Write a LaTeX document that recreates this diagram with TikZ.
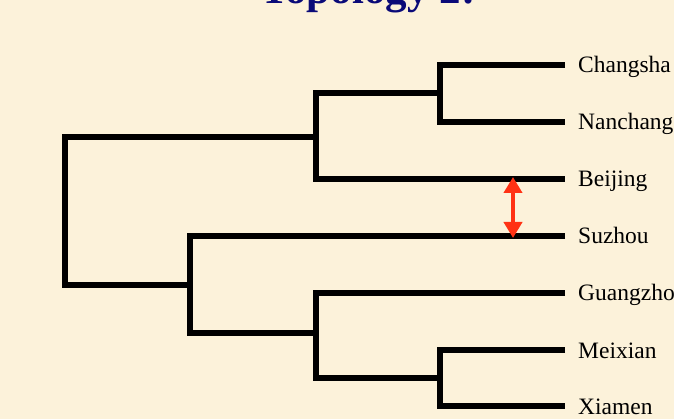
\documentclass[tikz,border=0pt]{standalone}
\usepackage{fontspec}
\setmainfont{Liberation Serif}
\usetikzlibrary{arrows.meta}
\definecolor{bgcream}{RGB}{252,242,218}
\definecolor{titleblue}{RGB}{10,10,120}
\definecolor{arrowred}{RGB}{255,50,20}
\begin{document}
\begin{tikzpicture}[x=1pt,y=-1pt,
  branch/.style={line width=5.5pt,line join=miter,black},
  leaflabel/.style={anchor=base west,inner sep=0pt,font=\fontsize{23.5}{28}\selectfont},
  swaparrow/.style={line width=4pt,arrowred,{Triangle[width=18pt,length=16pt]}-{Triangle[width=18pt,length=16pt]}}]
\fill[bgcream] (0,0) rectangle (674,419);
\useasboundingbox (0,0) rectangle (674,419);
\clip (0,0) rectangle (674,419);
\node[anchor=base,inner sep=0pt,text=titleblue,font=\fontsize{43}{48}\selectfont\bfseries] (title) at (368,4) {Topology 2:};
% internal nodes
\coordinate (n1) at (65,211);
\coordinate (n2) at (190,285);
\coordinate (n3) at (316,137);
\coordinate (n4) at (440,93);
\coordinate (n5) at (316,333);
\coordinate (n6) at (440,378);
% leaf ends
\coordinate (lc) at (565,65);
\coordinate (ln) at (565,122);
\coordinate (lb) at (565,179);
\coordinate (ls) at (565,236);
\coordinate (lg) at (565,293);
\coordinate (lm) at (565,350);
\coordinate (lx) at (565,406);
% branches
\draw[branch] (lc) -| (n4) |- (ln);
\draw[branch] (n4) -| (n3) |- (lb);
\draw[branch] (n3) -| (n1) |- (n2);
\draw[branch] (ls) -| (n2) |- (n5);
\draw[branch] (lg) -| (n5) |- (n6);
\draw[branch] (lm) -| (n6) |- (lx);
% labels
\node[leaflabel] (tc) at (578,73) {Changsha};
\node[leaflabel] (tn) at (578,130) {Nanchang};
\node[leaflabel] (tb) at (578,187) {Beijing};
\node[leaflabel] (ts) at (578,244) {Suzhou};
\node[leaflabel] (tg) at (578,301) {Guangzhou};
\node[leaflabel] (tm) at (578,358) {Meixian};
\node[leaflabel] (tx) at (578,414) {Xiamen};
% swap arrow
\coordinate (at) at (513,177);
\coordinate (ab) at (513,238);
\draw[swaparrow] (at) -- (ab);
\end{tikzpicture}
\end{document}
